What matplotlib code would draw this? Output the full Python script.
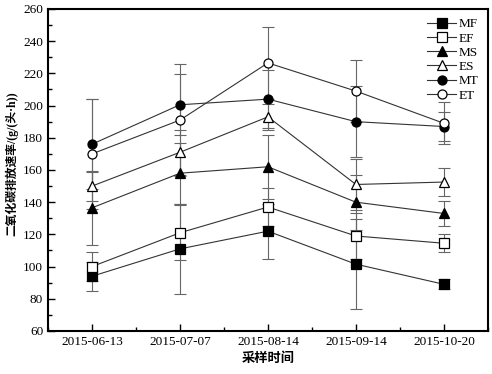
import numpy as np
import matplotlib.pyplot as plt
from matplotlib.ticker import MultipleLocator

dates = ['2015-06-13', '2015-07-07', '2015-08-14', '2015-09-14', '2015-10-20']
names = ['MF', 'EF', 'MS', 'ES', 'MT', 'ET']

MF = [94, 111, 122, 101.5, 89]
EF = [100, 121, 137, 119, 114.5]
MS = [136.5, 158, 162, 140, 133]
ES = [150, 171, 193, 151, 152.5]
MT = [176, 200.5, 204, 190, 187]
ET = [170, 191, 226.5, 209, 189]

MF_err = [9, 28, 17, 28, 3]
EF_err = [9, 17, 12, 14, 5.5]
MS_err = [23, 19, 20, 17, 8]
ES_err = [9, 14, 8, 16, 8.5]
MT_err = [28, 19, 18, 22, 9]
ET_err = [34, 35, 22.5, 19, 13]

series = [MF, EF, MS, ES, MT, ET]
errs = [MF_err, EF_err, MS_err, ES_err, MT_err, ET_err]
markers = ['s', 's', '^', '^', 'o', 'o']
faces = ['black', 'white', 'black', 'white', 'black', 'white']

plt.rcParams['font.family'] = ['Liberation Serif', 'Noto Sans CJK SC']

fig = plt.figure(figsize=(4.92, 3.74), dpi=100)
ax = fig.add_axes([0.0976, 0.115, 0.894, 0.861])

x = np.arange(len(dates))
for s, e, m, fc, n in zip(series, errs, markers, faces, names):
    ax.errorbar(x, s, yerr=e, fmt='none', ecolor='#666666', elinewidth=0.8,
                capsize=4, capthick=0.8, zorder=1)
    ax.plot(x, s, color='#333333', lw=0.8, marker=m, markersize=6.5,
            markerfacecolor=fc, markeredgecolor='black', markeredgewidth=0.9,
            label=n, zorder=3)

ax.set_xlim(-0.5, 4.5)
ax.set_ylim(60, 260)
ax.set_xticks(x)
ax.set_xticklabels(dates, fontsize=9.5)
ax.xaxis.set_minor_locator(MultipleLocator(0.5))
ax.yaxis.set_major_locator(MultipleLocator(20))
ax.yaxis.set_minor_locator(MultipleLocator(10))
ax.tick_params(axis='both', which='both', direction='in', top=False, right=False, labelsize=9.5)
ax.tick_params(which='major', length=5, width=1)
ax.tick_params(which='minor', length=3, width=1)
for sp in ax.spines.values():
    sp.set_linewidth(1.5)

ax.set_ylabel('二氧化碳排放速率/(g/(头·h))', fontsize=8.5, fontweight='bold')
ax.yaxis.set_label_coords(-0.068, 0.52)
ax.set_xlabel('采样时间', fontsize=9.5, fontweight='bold', labelpad=3)

ax.legend(loc='upper right', frameon=False, fontsize=9.5, handlelength=2.2,
          handletextpad=0.2, labelspacing=0.15, borderaxespad=0.3)

fig.savefig('out.png', dpi=100)
